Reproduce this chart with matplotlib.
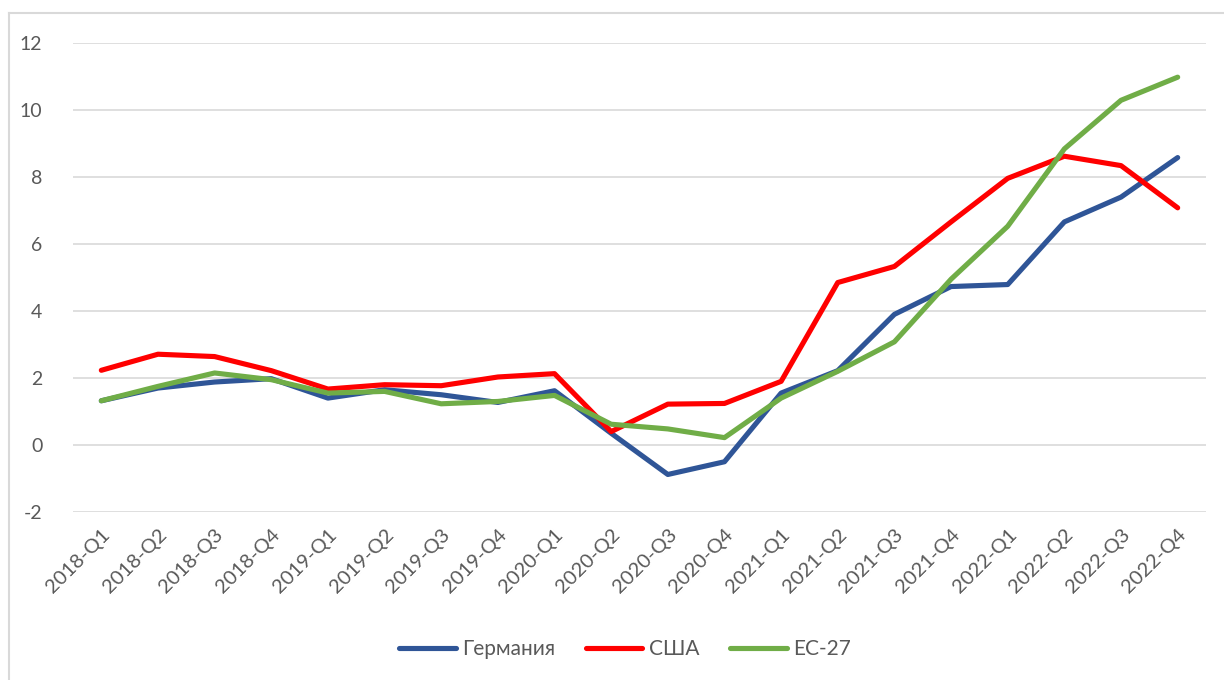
import matplotlib
matplotlib.use("Agg")
import matplotlib.pyplot as plt
from matplotlib.lines import Line2D

categories = ["2018-Q1", "2018-Q2", "2018-Q3", "2018-Q4",
              "2019-Q1", "2019-Q2", "2019-Q3", "2019-Q4",
              "2020-Q1", "2020-Q2", "2020-Q3", "2020-Q4",
              "2021-Q1", "2021-Q2", "2021-Q3", "2021-Q4",
              "2022-Q1", "2022-Q2", "2022-Q3", "2022-Q4"]

germany = [1.32, 1.70, 1.88, 1.98, 1.40, 1.65, 1.50, 1.27, 1.62, 0.35,
           -0.88, -0.50, 1.55, 2.22, 3.90, 4.73, 4.79, 6.66, 7.40, 8.58]
usa = [2.23, 2.71, 2.64, 2.22, 1.67, 1.80, 1.77, 2.03, 2.13, 0.40,
       1.22, 1.24, 1.90, 4.85, 5.33, 6.66, 7.96, 8.62, 8.34, 7.08]
eu27 = [1.32, 1.75, 2.15, 1.95, 1.55, 1.60, 1.23, 1.30, 1.48, 0.62,
        0.48, 0.22, 1.40, 2.20, 3.08, 4.95, 6.53, 8.84, 10.29, 10.98]

series_names = ["Германия", "США", "ЕС-27"]
colors = ["#2F5597", "#FF0000", "#70AD47"]
yticks = [-2, 0, 2, 4, 6, 8, 10, 12]

plt.rcParams['font.family'] = ['Lato', 'DejaVu Sans']

W, H = 1224, 680
fig = plt.figure(figsize=(W / 100, H / 100), dpi=100)
ax = fig.add_axes([73 / W, (H - 512) / H, (1206 - 73) / W, (512 - 43) / H])

x = list(range(len(categories)))
for vals, name, c in zip([germany, usa, eu27], series_names, colors):
    ax.plot(x, vals, color=c, lw=3.7, solid_capstyle='round',
            solid_joinstyle='round', label=name)

ax.set_xlim(-0.5, len(categories) - 0.5)
ax.set_ylim(-2, 12)
ax.set_yticks(yticks)
ax.set_yticklabels([str(v) for v in yticks])
ax.set_xticks(x)
ax.set_xticklabels(categories, rotation=45, ha='right', va='top',
                   rotation_mode='anchor')
ax.tick_params(axis='both', length=0, labelsize=14, colors='#595959')
ax.tick_params(axis='x', labelsize=14.5)
ax.tick_params(axis='y', pad=22)
ax.tick_params(axis='x', pad=10)
ax.grid(axis='y', color='#D9D9D9', lw=1.2)
ax.set_axisbelow(True)
for s in ax.spines.values():
    s.set_visible(False)

handles = [Line2D([], [], color=c, lw=3.7, solid_capstyle='round') for c in colors]
fig.legend(handles, series_names, loc='center', bbox_to_anchor=(625 / W, 1 - 649 / H),
           ncol=3, frameon=False, fontsize=15, handlelength=2.7,
           handletextpad=0.3, columnspacing=1.5, labelcolor='#595959')

# chart border (left and top visible)
fig.add_artist(Line2D([8.5 / W, 8.5 / W], [0, 1 - 13 / H], color='#D9D9D9', lw=1.5,
                      transform=fig.transFigure))
fig.add_artist(Line2D([8.5 / W, 1], [1 - 13 / H, 1 - 13 / H], color='#D9D9D9', lw=1.5,
                      transform=fig.transFigure))

fig.savefig("out.png", dpi=100)
